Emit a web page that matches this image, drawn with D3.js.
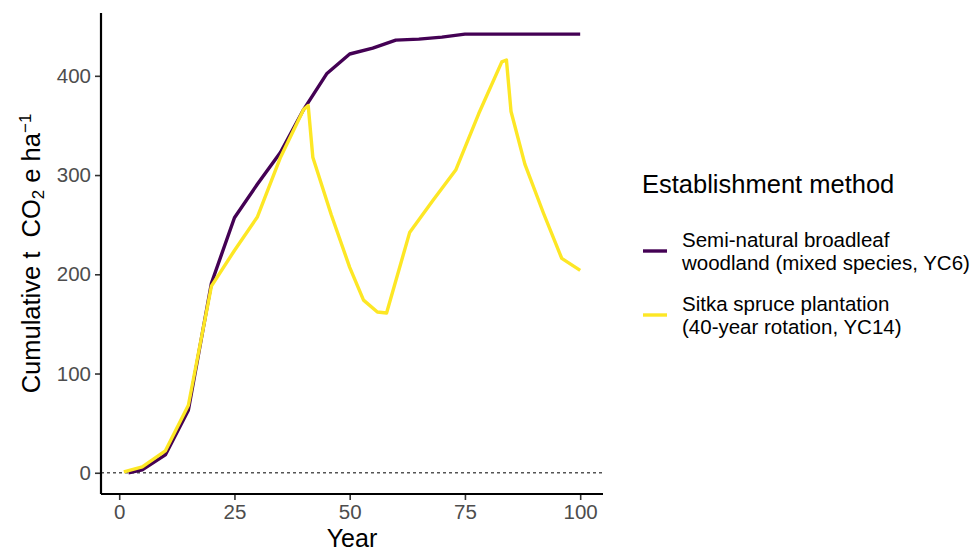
<!DOCTYPE html>
<html><head><meta charset="utf-8">
<script src="https://cdn.jsdelivr.net/npm/d3@7"></script>
<style>body{margin:0;background:#fff;} text{font-family:"Liberation Sans",Arial,sans-serif;}</style>
</head><body><svg id="chart" width="973" height="552"></svg>
<script>
const seriesNames = ["Semi-natural broadleaf woodland (mixed species, YC6)", "Sitka spruce plantation (40-year rotation, YC14)"];
const legendLines = [["Semi-natural broadleaf","woodland (mixed species, YC6)"],["Sitka spruce plantation","(40-year rotation, YC14)"]];
const colors = ["#440154", "#FDE725"];
const broadleafYears = [2,5,10,15,20,25,30,35,40,45,50,55,60,65,70,75,80,85,90,95,100];
const broadleafValues = [0,3,18,63,191,257,291,323,366,402,422,428,436,437,439,442,442,442,442,442,442];
const sitkaYears = [1,5,10,15,20,25,30,35,40,41,42,46,50,53,56,58,63,68,73,78,83,84,85,88,92,96,100];
const sitkaValues = [1,6,22,68,188,224,258,318,366,370,318,260,207,174,162,161,242,274,305,362,414,416,364,311,262,216,204];
const xTicks = [0,25,50,75,100];
const yTicks = [0,100,200,300,400];

const svg = d3.select("#chart");
const L = 101, R = 603, T = 13, B = 494;
const x = d3.scaleLinear().domain([-3.95, 104.95]).range([L, R]);
const y = d3.scaleLinear().domain([-21.4, 463.3]).range([B, T]);

// zero line
svg.append("line").attr("x1", L).attr("x2", R).attr("y1", y(0)).attr("y2", y(0))
  .attr("stroke", "#555").attr("stroke-width", 1.3).attr("stroke-dasharray", "3,3");

const line = d3.line().x(d => x(d[0])).y(d => y(d[1]));
const series = [d3.zip(broadleafYears, broadleafValues), d3.zip(sitkaYears, sitkaValues)];
series.forEach((s, i) => {
  svg.append("path").datum(s).attr("d", line).attr("fill", "none")
    .attr("stroke", colors[i]).attr("stroke-width", 3.4).attr("stroke-linejoin", "round");
});

// axes
const xAxis = svg.append("g").attr("transform", `translate(0,${B})`)
  .call(d3.axisBottom(x).tickValues(xTicks).tickSize(6).tickPadding(4));
const yAxis = svg.append("g").attr("transform", `translate(${L},0)`)
  .call(d3.axisLeft(y).tickValues(yTicks).tickSize(6).tickPadding(4));
[xAxis, yAxis].forEach(a => {
  a.select(".domain").remove();
  a.selectAll(".tick line").attr("stroke", "#333").attr("stroke-width", 1.6);
  a.selectAll(".tick text").attr("fill", "#4d4d4d").style("font-size", "20.5px").style("font-family", "Liberation Sans, Arial, sans-serif");
});
svg.append("line").attr("x1", L).attr("x2", R).attr("y1", B).attr("y2", B).attr("stroke", "#000").attr("stroke-width", 2.2);
svg.append("line").attr("x1", L).attr("x2", L).attr("y1", T).attr("y2", B).attr("stroke", "#000").attr("stroke-width", 2.2);

// axis titles
svg.append("text").attr("x", (L + R) / 2).attr("y", 547).attr("text-anchor", "middle")
  .style("font-size", "25px").attr("fill", "#000").text("Year");
const yt = svg.append("text").attr("transform", `translate(40,${(T + B) / 2}) rotate(-90)`)
  .attr("text-anchor", "middle").style("font-size", "25.5px").style("white-space", "pre").attr("fill", "#000");
yt.append("tspan").text("Cumulative t  CO");
yt.append("tspan").attr("baseline-shift", "-25%").style("font-size", "17px").text("2");
yt.append("tspan").text(" e ha");
yt.append("tspan").attr("baseline-shift", "55%").style("font-size", "17px").text("\u22121");

// legend
svg.append("text").attr("x", 642).attr("y", 193).style("font-size", "25.5px").attr("fill", "#000").text("Establishment method");
const keyY = [251, 315];
legendLines.forEach((lines, i) => {
  svg.append("line").attr("x1", 643).attr("x2", 667).attr("y1", keyY[i]).attr("y2", keyY[i])
    .attr("stroke", colors[i]).attr("stroke-width", 3.4);
  const t = svg.append("text").attr("x", 682).attr("y", keyY[i] - 4).style("font-size", "20.5px").attr("fill", "#000");
  t.append("tspan").attr("x", 682).attr("dy", 0).text(lines[0]);
  t.append("tspan").attr("x", 682).attr("dy", 23).text(lines[1]);
});
</script></body></html>
